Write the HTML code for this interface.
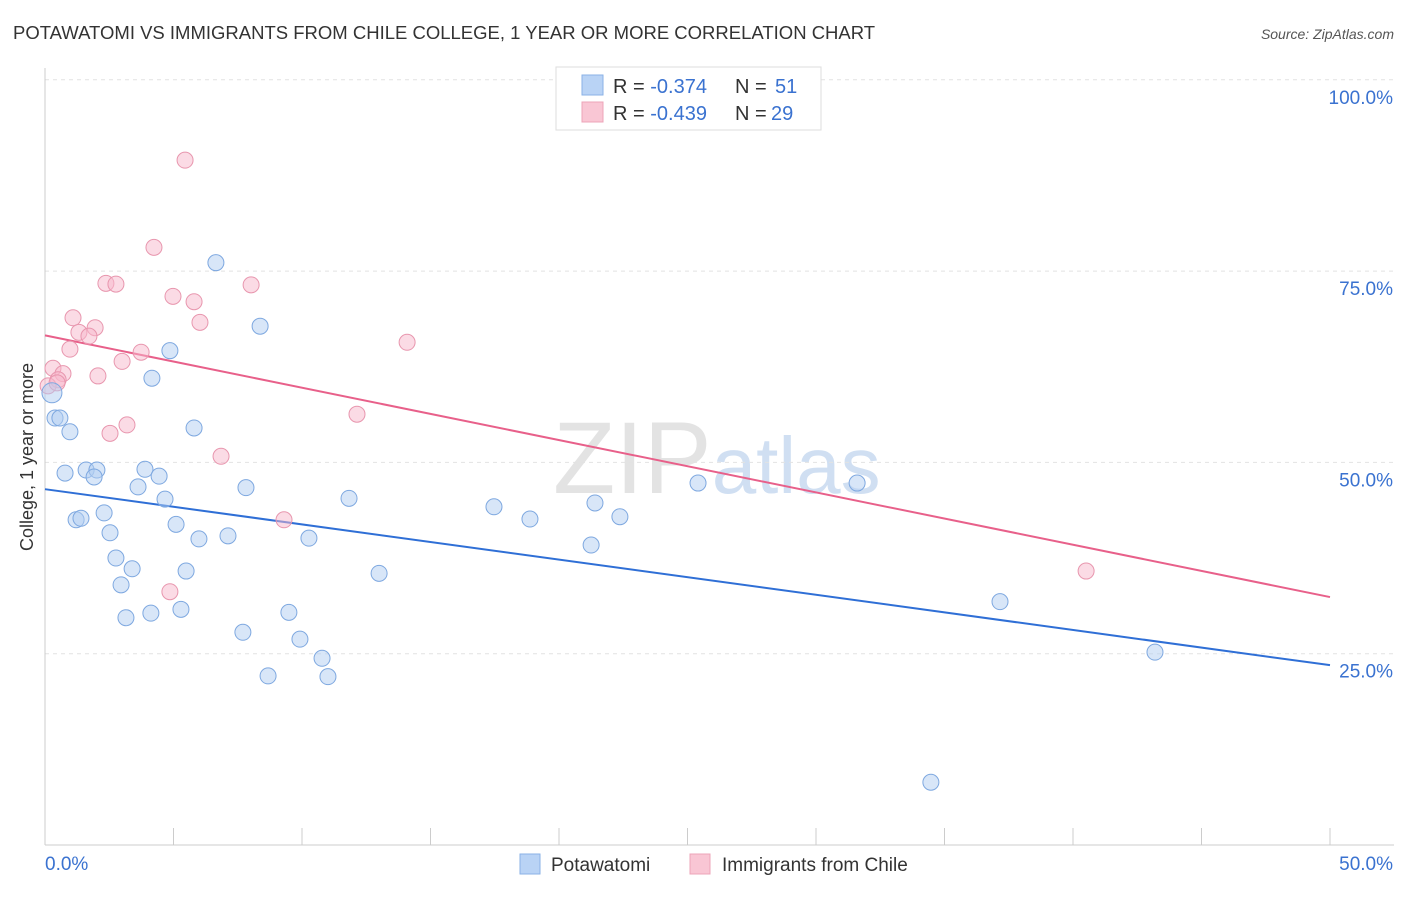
<!DOCTYPE html>
<html><head><meta charset="utf-8"><style>
body{margin:0;background:#fff;font-family:"Liberation Sans",sans-serif;}
svg text{font-family:"Liberation Sans",sans-serif;}
</style></head><body>
<svg id="chart" width="1406" height="892" xmlns="http://www.w3.org/2000/svg">
<text x="13" y="39" font-size="18.5" fill="#333">POTAWATOMI VS IMMIGRANTS FROM CHILE COLLEGE, 1 YEAR OR MORE CORRELATION CHART</text>
<text x="1394" y="39" font-size="14" fill="#555" text-anchor="end" font-style="italic">Source: ZipAtlas.com</text>
<text x="553" y="493" font-size="102" fill="#ddd" font-family="Liberation Serif" opacity="0.8">ZIP<tspan fill="#c5d8f0" font-family="Liberation Sans" font-size="80">atlas</tspan></text>
<g id="grid"></g>
<g id="axes"></g>
<g id="lines"></g>
<g id="pts"></g>
<g>
<rect x="556" y="67" width="265" height="63" fill="#fff" stroke="#ddd"/>
<rect x="582" y="75" width="21" height="20" fill="#b9d3f5" stroke="#8ab1e6"/>
<rect x="582" y="102" width="21" height="20" fill="#f9c6d4" stroke="#eda4b8"/>
<text x="613" y="93" font-size="20" fill="#333">R = <tspan fill="#3a72d0">-0.374</tspan><tspan x="735">N = </tspan><tspan fill="#3a72d0" x="775">51</tspan></text>
<text x="613" y="120" font-size="20" fill="#333">R = <tspan fill="#3a72d0">-0.439</tspan><tspan x="735">N = </tspan><tspan fill="#3a72d0" x="771">29</tspan></text>
</g>
<g>
<rect x="520" y="854" width="20" height="20" fill="#b9d3f5" stroke="#8ab1e6"/>
<text x="551" y="871" font-size="19" fill="#333">Potawatomi</text>
<rect x="690" y="854" width="20" height="20" fill="#f9c6d4" stroke="#eda4b8"/>
<text x="722" y="871" font-size="19" fill="#333">Immigrants from Chile</text>
</g>
<text transform="translate(33,457) rotate(-90)" font-size="18" fill="#333" text-anchor="middle">College, 1 year or more</text>
</svg>
<script>
const blueX=[0.27,0.39,0.58,0.97,0.78,1.60,2.02,1.91,1.21,1.40,2.30,2.53,2.76,3.39,2.96,3.15,4.12,3.62,3.89,4.44,4.67,4.16,4.86,5.10,5.49,5.29,5.80,5.99,7.12,6.65,7.82,7.70,8.37,8.68,9.49,9.92,10.27,10.78,11.01,11.83,13.00,17.47,18.87,21.25,21.40,22.37,25.41,31.60,37.16,34.47,43.19];
const blueY=[59.1,55.8,55.8,54.0,48.6,49.0,49.0,48.1,42.5,42.7,43.4,40.8,37.5,36.1,34.0,29.7,30.3,46.8,49.1,48.2,45.2,61.0,64.6,41.9,35.8,30.8,54.5,40.0,40.4,76.1,46.7,27.8,67.8,22.1,30.4,26.9,40.1,24.4,22.0,45.3,35.5,44.2,42.6,39.2,44.7,42.9,47.3,47.3,31.8,8.2,25.2];
const pinkX=[5.45,4.24,2.37,2.76,8.02,4.98,5.80,1.09,6.03,1.95,1.32,1.71,14.09,0.97,3.74,3.00,0.31,0.70,2.06,0.51,0.12,12.14,3.19,2.53,6.85,9.30,4.86,40.51,0.47];
const pinkY=[89.5,78.1,73.4,73.3,73.2,71.7,71.0,68.9,68.3,67.6,67.0,66.5,65.7,64.8,64.4,63.2,62.3,61.6,61.3,60.8,60.0,56.3,54.9,53.8,50.8,42.5,33.1,35.8,60.4];
const blueTrend=[46.5,23.5];
const pinkTrend=[66.6,32.4];
const yTicks=[25,50,75,100];
const xTickLabels=["0.0%","50.0%"];
const NS="http://www.w3.org/2000/svg";
const X=v=>45+v/50*1285, Y=v=>845-v/100*765.2;
function mk(p,t,a){const e=document.createElementNS(NS,t);for(const k in a)e.setAttribute(k,a[k]);document.getElementById(p).appendChild(e);return e;}
yTicks.forEach(t=>{
 const g=mk('grid','line',{x1:45,x2:1394,y1:Y(t),y2:Y(t),stroke:'#e2e2e2','stroke-dasharray':'4,4'});
 
 
 const l=mk('axes','text',{x:1393,y:Y(t)+24,'font-size':19,fill:'#3a72d0','text-anchor':'end'});
 l.textContent=t.toFixed(1)+'%';
 
 
});
mk('axes','line',{x1:45,x2:45,y1:68,y2:845,stroke:'#ccc'});
mk('axes','line',{x1:45,x2:1394,y1:845,y2:845,stroke:'#ccc'});
for(let i=0;i<=10;i++){const tk=mk('axes','line',{x1:X(i*5),x2:X(i*5),y1:828,y2:845,stroke:'#ccc'});
 
 }
const x0=mk('axes','text',{x:45,y:870,'font-size':19,fill:'#3a72d0'});x0.textContent=xTickLabels[0];


const x1=mk('axes','text',{x:1393,y:870,'font-size':19,fill:'#3a72d0','text-anchor':'end'});x1.textContent=xTickLabels[1];


function pts(xs,ys,f,s,n){xs.forEach((x,i)=>{const c=mk('pts','circle',{cx:X(x),cy:Y(ys[i]),r:(n==='point-potawatomi'&&i===0)?10:8,fill:f,'fill-opacity':0.5,stroke:s,'stroke-width':1});
 
 });}
pts(pinkX,pinkY,'#f7b8cb','#e896ae','point-chile');
pts(blueX,blueY,'#b2cdf2','#7ea8e0','point-potawatomi');
const bl=mk('lines','line',{x1:X(0),y1:Y(blueTrend[0]),x2:X(50),y2:Y(blueTrend[1]),stroke:'#2f6fd6','stroke-width':2});


const pl=mk('lines','line',{x1:X(0),y1:Y(pinkTrend[0]),x2:X(50),y2:Y(pinkTrend[1]),stroke:'#e8608a','stroke-width':2});


</script>
</body></html>
